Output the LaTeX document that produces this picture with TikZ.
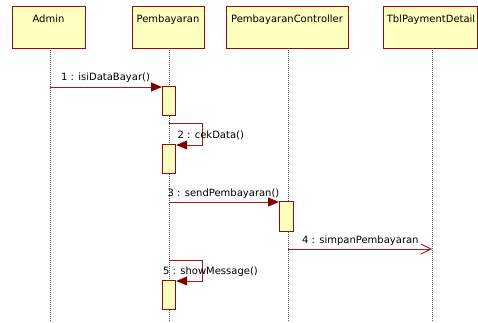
\documentclass[tikz,border=0pt]{standalone}
\usepackage{fontspec}
\setmainfont{DejaVu Sans}
\usetikzlibrary{arrows.meta}
\definecolor{boxfill}{RGB}{255,255,192}
\definecolor{boxline}{RGB}{150,10,10}
\definecolor{msgline}{RGB}{165,25,25}
\definecolor{tipfill}{RGB}{128,0,0}
\definecolor{lifegray}{RGB}{80,80,80}
\begin{document}
\begin{tikzpicture}[x=1pt,y=-1pt,
  objbox/.style={draw=boxline,fill=boxfill,line width=1.2pt,anchor=north west,inner sep=0pt},
  objname/.style={anchor=base,font=\fontsize{10}{12}\selectfont,inner sep=0pt},
  actbox/.style={draw=boxline,fill=boxfill,line width=1.2pt,anchor=north west,inner sep=0pt,minimum width=13pt,minimum height=29pt},
  lifeline/.style={draw=lifegray,line width=0.6pt,dash pattern=on 1pt off 1pt},
  msg/.style={draw=msgline,line width=0.9pt,-{Triangle[length=11pt,width=9pt,fill=tipfill,color=tipfill]}},
  asyncmsg/.style={draw=msgline,line width=0.9pt,-{Straight Barb[length=10pt,width=10pt]}},
  msglabel/.style={anchor=base west,font=\fontsize{10}{12}\selectfont,inner sep=0pt}
]
\useasboundingbox[fill=white] (0,0) rectangle (478,322);

% object heads
\node[objbox,minimum width=73pt,minimum height=42pt] (admin) at (12,6) {};
\node[objbox,minimum width=72pt,minimum height=42pt] (bayar) at (132,6) {};
\node[objbox,minimum width=122pt,minimum height=42pt] (ctrl) at (226,6) {};
\node[objbox,minimum width=94pt,minimum height=42pt] (tbl) at (383,6) {};
\node[objname] (adminT) at (48.5,22.5) {Admin};
\node[objname] (bayarT) at (168,22.5) {Pembayaran};
\node[objname] (ctrlT) at (287,22.5) {PembayaranController};
\node[objname] (tblT) at (431,22.5) {TblPaymentDetail};

% lifelines
\coordinate (adminTop) at (50,48);   \coordinate (adminEnd) at (50,322);
\coordinate (bayarTop) at (169,48);  \coordinate (bayarEnd) at (169,322);
\coordinate (ctrlTop) at (288,48);   \coordinate (ctrlEnd) at (288,322);
\coordinate (tblTop) at (432,48);    \coordinate (tblEnd) at (432,322);
\draw[lifeline] (adminTop) -- (adminEnd);
\draw[lifeline] (bayarTop) -- (bayarEnd);
\draw[lifeline] (ctrlTop) -- (ctrlEnd);
\draw[lifeline] (tblTop) -- (tblEnd);

% activations
\node[actbox] (act1) at (162,86) {};
\node[actbox] (act2) at (162,144) {};
\node[actbox,minimum width=14pt,minimum height=30pt] (act3) at (279,201) {};
\node[actbox] (act5) at (162,280) {};

% 1 : isiDataBayar()
\coordinate (m1s) at (50,87);
\draw[msg] (m1s) -- (act1.west |- m1s);
\node[msglabel] (l1) at (61,80) {1 : isiDataBayar()};

% 2 : cekData()
\coordinate (m2s) at (169,123);
\coordinate (m2a) at (202,123);
\coordinate (m2b) at (202,145);
\draw[msg] (m2s) -- (m2a) -- (m2b) -- (act2.east |- m2b);
\node[msglabel] (l2) at (177.5,138.5) {2 : cekData()};

% 3 : sendPembayaran()
\coordinate (m3s) at (169,202);
\draw[msg] (m3s) -- (act3.west |- m3s);
\node[msglabel] (l3) at (167.5,196) {3 : sendPembayaran()};

% 4 : simpanPembayaran
\coordinate (m4s) at (288,249);
\coordinate (m4e) at (432,249);
\draw[asyncmsg] (m4s) -- (m4e);
\node[msglabel] (l4) at (302,243) {4 : simpanPembayaran};

% 5 : showMessage()
\coordinate (m5s) at (169,260);
\coordinate (m5a) at (202,260);
\coordinate (m5b) at (202,281);
\draw[msg] (m5s) -- (m5a) -- (m5b) -- (act5.east |- m5b);
\node[msglabel] (l5) at (163,274) {5 : showMessage()};
\end{tikzpicture}
\end{document}
